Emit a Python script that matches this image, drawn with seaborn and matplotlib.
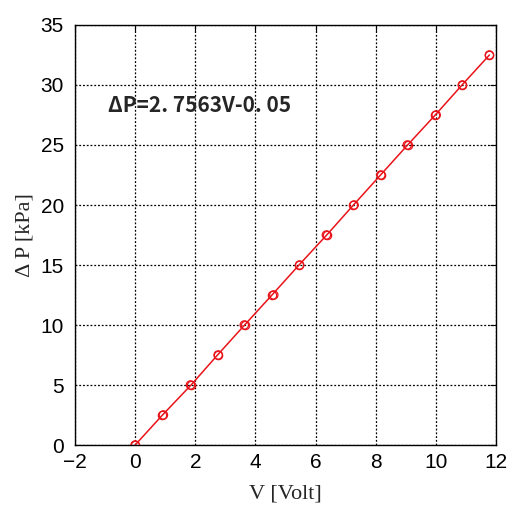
import matplotlib
matplotlib.use("Agg")
import matplotlib.pyplot as plt
import seaborn as sns
import pandas as pd

# Calibration measurements: voltage output vs differential pressure
pressure_kpa = [0.0, 2.5, 5.0, 7.5, 10.0, 12.5, 15.0, 17.5, 20.0, 22.5, 25.0, 27.5, 30.0, 32.5]
voltage_up = [0.0, 0.91, 1.86, 2.74, 3.64, 4.55, 5.45, 6.37, 7.26, 8.16, 9.06, 9.98, 10.87, 11.78]
voltage_down = [0.0, 0.94, 1.84, 2.76, 3.63, 4.61, 5.47, 6.36, 7.28, 8.17, 9.05, 10.01, 10.88, 11.78]

fit_label = "ΔP=2. 7563V-0. 05"
x_ticks = [-2, 0, 2, 4, 6, 8, 10, 12]
y_ticks = [0, 5, 10, 15, 20, 25, 30, 35]

sns.set_theme(style="white")
plt.rcParams["font.family"] = ["Liberation Sans", "DejaVu Sans"]

up = pd.DataFrame({"V": voltage_up, "P": pressure_kpa})
down = pd.DataFrame({"V": voltage_down, "P": pressure_kpa})

fig = plt.figure(figsize=(5.09, 5.05), dpi=100)
ax = fig.add_axes([0.1473, 0.1188, 0.8272, 0.8317])

red = "#e8141a"
sns.lineplot(data=up, x="V", y="P", ax=ax, color=red, linewidth=1.1, sort=False,
             marker="o", markersize=6, markerfacecolor="none", markeredgecolor=red,
             markeredgewidth=0.9)
sns.scatterplot(data=down, x="V", y="P", ax=ax, s=36, facecolors="none",
                edgecolor=red, linewidth=0.9, zorder=3)

ax.set_xlim(-2, 12)
ax.set_ylim(0, 35)
ax.set_xticks(x_ticks)
ax.set_yticks(y_ticks)
ax.set_xticklabels([str(t).replace("-", "\u2212") for t in x_ticks], fontsize=15)
ax.set_yticklabels([str(t) for t in y_ticks], fontsize=15)

ax.grid(True, color="black", linestyle=(0, (1.5, 1.5)), linewidth=0.9)
ax.tick_params(direction="in", length=4, width=0.8, colors="black", top=True, right=True)
ax.tick_params(axis="x", pad=6)
ax.tick_params(axis="y", pad=8)
for s in ax.spines.values():
    s.set_color("black")
    s.set_linewidth(1.0)

serif = ["Liberation Serif", "DejaVu Serif"]
ax.set_xlabel("V [Volt]", fontsize=16, family=serif, labelpad=9)
ax.set_ylabel("Δ P [kPa]", fontsize=16, family=serif, labelpad=4)

ax.text(-0.9, 28.25, fit_label, fontsize=15, fontweight="bold",
        family=["Noto Sans CJK JP", "DejaVu Sans"], va="center", ha="left")

fig.savefig("out.png", dpi=100)
